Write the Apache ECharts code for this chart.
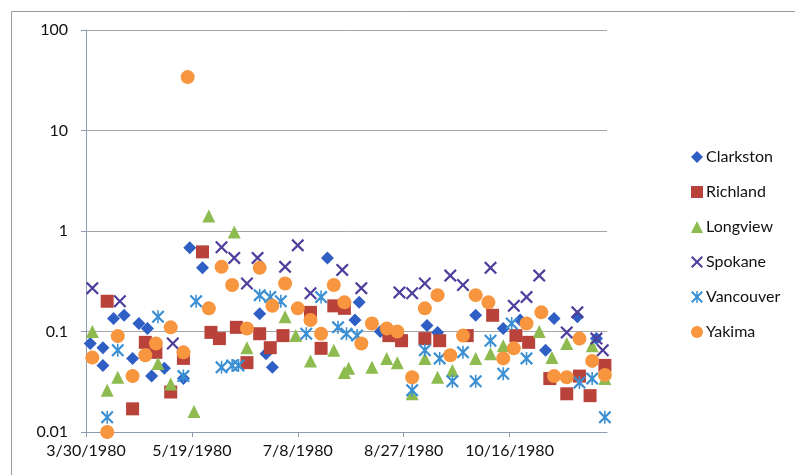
<!DOCTYPE html>
<html>
<head>
<meta charset="utf-8">
<script src="https://cdn.jsdelivr.net/npm/echarts@6/dist/echarts.min.js"></script>
<style>
  html, body { margin: 0; padding: 0; background: #fff; }
  #chart { width: 795px; height: 475px; }
</style>
</head>
<body>
<div id="chart"></div>
<script>
// day offsets are counted from 3/30/1980
var startDate = Date.UTC(1980, 2, 30);

var clarkston = [
  [2, 0.076], [8, 0.069], [8, 0.046], [13, 0.135], [18, 0.145], [22, 0.054], [25, 0.12],
  [29, 0.107], [31, 0.036], [37, 0.043], [40, 0.027], [46, 0.034], [49, 0.68], [55, 0.43],
  [82, 0.15], [85, 0.06], [88, 0.044], [114, 0.54], [120, 0.18], [127, 0.13], [129, 0.195],
  [139, 0.1], [148, 0.091], [161, 0.115], [166, 0.098], [184, 0.145], [197, 0.107],
  [205, 0.13], [217, 0.065], [221, 0.135], [232, 0.14], [241, 0.085]
];
var richland = [
  [10, 0.2], [22, 0.017], [28, 0.078], [33, 0.062], [40, 0.025], [46, 0.054], [55, 0.62],
  [59, 0.098], [63, 0.085], [71, 0.11], [76, 0.049], [82, 0.095], [87, 0.069], [93, 0.091],
  [106, 0.155], [111, 0.068], [117, 0.18], [122, 0.17], [143, 0.091], [149, 0.081],
  [160, 0.085], [167, 0.081], [180, 0.091], [192, 0.145], [203, 0.091], [209, 0.078],
  [219, 0.034], [227, 0.024], [233, 0.036], [238, 0.023], [245, 0.046]
];
var longview = [
  [3, 0.1], [10, 0.026], [15, 0.035], [34, 0.048], [40, 0.03], [51, 0.016], [58, 1.41],
  [70, 0.98], [76, 0.069], [94, 0.14], [99, 0.091], [106, 0.051], [117, 0.065], [122, 0.039],
  [124, 0.043], [135, 0.044], [142, 0.054], [147, 0.049], [154, 0.024], [160, 0.054],
  [166, 0.035], [173, 0.041], [184, 0.054], [191, 0.06], [197, 0.072], [214, 0.1],
  [220, 0.055], [227, 0.076], [239, 0.072], [245, 0.034]
];
var spokane = [
  [3, 0.27], [16, 0.2], [41, 0.076], [64, 0.69], [70, 0.54], [76, 0.3], [81, 0.54],
  [94, 0.44], [100, 0.72], [106, 0.24], [121, 0.41], [130, 0.27], [148, 0.245], [154, 0.24],
  [160, 0.3], [172, 0.36], [178, 0.29], [191, 0.43], [202, 0.18], [208, 0.22], [214, 0.36],
  [227, 0.098], [232, 0.155], [241, 0.085], [244, 0.065]
];
var vancouver = [
  [10, 0.014], [15, 0.065], [34, 0.14], [46, 0.036], [52, 0.2], [64, 0.044], [69, 0.046],
  [72, 0.046], [82, 0.23], [87, 0.22], [92, 0.2], [104, 0.095], [111, 0.22], [119, 0.11],
  [123, 0.095], [128, 0.091], [154, 0.026], [160, 0.065], [167, 0.054], [173, 0.032],
  [178, 0.062], [184, 0.032], [191, 0.081], [197, 0.038], [201, 0.12], [208, 0.054],
  [233, 0.031], [239, 0.034], [245, 0.014]
];
var yakima = [
  [3, 0.055], [10, 0.01], [15, 0.09], [22, 0.036], [28, 0.058], [33, 0.076], [40, 0.11],
  [46, 0.062], [48, 34], [58, 0.17], [64, 0.44], [69, 0.29], [76, 0.107], [82, 0.43],
  [88, 0.18], [94, 0.3], [100, 0.17], [106, 0.13], [111, 0.095], [117, 0.29], [122, 0.195],
  [130, 0.076], [135, 0.12], [142, 0.107], [147, 0.1], [154, 0.035], [160, 0.17],
  [166, 0.23], [172, 0.058], [178, 0.091], [184, 0.23], [190, 0.195], [197, 0.054],
  [202, 0.068], [208, 0.12], [215, 0.155], [221, 0.036], [227, 0.035], [233, 0.085],
  [239, 0.051], [245, 0.037]
];

var names = ['Clarkston', 'Richland', 'Longview', 'Spokane', 'Vancouver', 'Yakima'];
var colors = ['#2f5fc4', '#b9423a', '#8dbb4f', '#4e3f9c', '#3b8fd3', '#f7963f'];

var xPath = 'path://M0,1.2L1.2,0L5,3.8L8.8,0L10,1.2L6.2,5L10,8.8L8.8,10L5,6.2L1.2,10L0,8.8L3.8,5Z';
var starPath = 'path://M0,1.2L1.2,0L5,3.8L8.8,0L10,1.2L6.2,5L10,8.8L8.8,10L5,6.2L1.2,10L0,8.8L3.8,5Z' +
  'M4.4,0L5.6,0L5.6,10L4.4,10Z';
var symbols = ['diamond', 'rect', 'triangle', xPath, starPath, 'circle'];
var sizes = [13, 13, 13, 13, 13, 14];
var allData = [clarkston, richland, longview, spokane, vancouver, yakima];

var chart = echarts.init(document.getElementById('chart'));

function dayLabel(d) {
  var dt = new Date(startDate + d * 86400000);
  return (dt.getUTCMonth() + 1) + '/' + dt.getUTCDate() + '/' + dt.getUTCFullYear();
}

var series = names.map(function (n, i) {
  return {
    name: n,
    type: 'scatter',
    data: allData[i],
    symbol: symbols[i],
    symbolSize: sizes[i],
    itemStyle: { color: colors[i], opacity: 1 }
  };
});

var option = {
  animation: false,
  color: colors,
  textStyle: { fontFamily: 'Lato' },
  graphic: [{
    type: 'rect',
    left: 9, top: 9,
    shape: { width: 800, height: 480 },
    style: { fill: 'none', stroke: '#9a9a9a', lineWidth: 1 }
  }],
  grid: { left: 86, top: 30, width: 521, height: 402 },
  legend: {
    orient: 'vertical',
    left: 686,
    top: 144,
    itemWidth: 12,
    itemHeight: 12,
    itemGap: 19,
    textStyle: { fontSize: 16, color: '#111', fontFamily: 'Lato', padding: [0, 0, 0, -2] },
    data: names
  },
  xAxis: {
    type: 'value',
    min: 0,
    max: 246,
    interval: 50,
    axisLine: { lineStyle: { color: '#8d9ab0', width: 1 } },
    axisTick: { show: true, length: 5, lineStyle: { color: '#8d9ab0' } },
    splitLine: { show: false },
    axisLabel: {
      margin: 11,
      fontSize: 16,
      color: '#111',
      showMaxLabel: false,
      formatter: dayLabel
    }
  },
  yAxis: {
    type: 'log',
    logBase: 10,
    min: 0.01,
    max: 100,
    axisLine: { show: true, lineStyle: { color: '#8d9ab0', width: 1 } },
    axisTick: { show: true, length: 5, lineStyle: { color: '#8d9ab0' } },
    splitLine: { show: true, lineStyle: { color: '#a5a5a5', width: 1 } },
    minorTick: { show: false },
    axisLabel: {
      margin: 18,
      fontSize: 16,
      color: '#111',
      formatter: function (v) {
        return v >= 1 ? String(Math.round(v)) : String(parseFloat(v.toPrecision(2)));
      }
    }
  },
  series: series
};

chart.setOption(option);
</script>
</body>
</html>
